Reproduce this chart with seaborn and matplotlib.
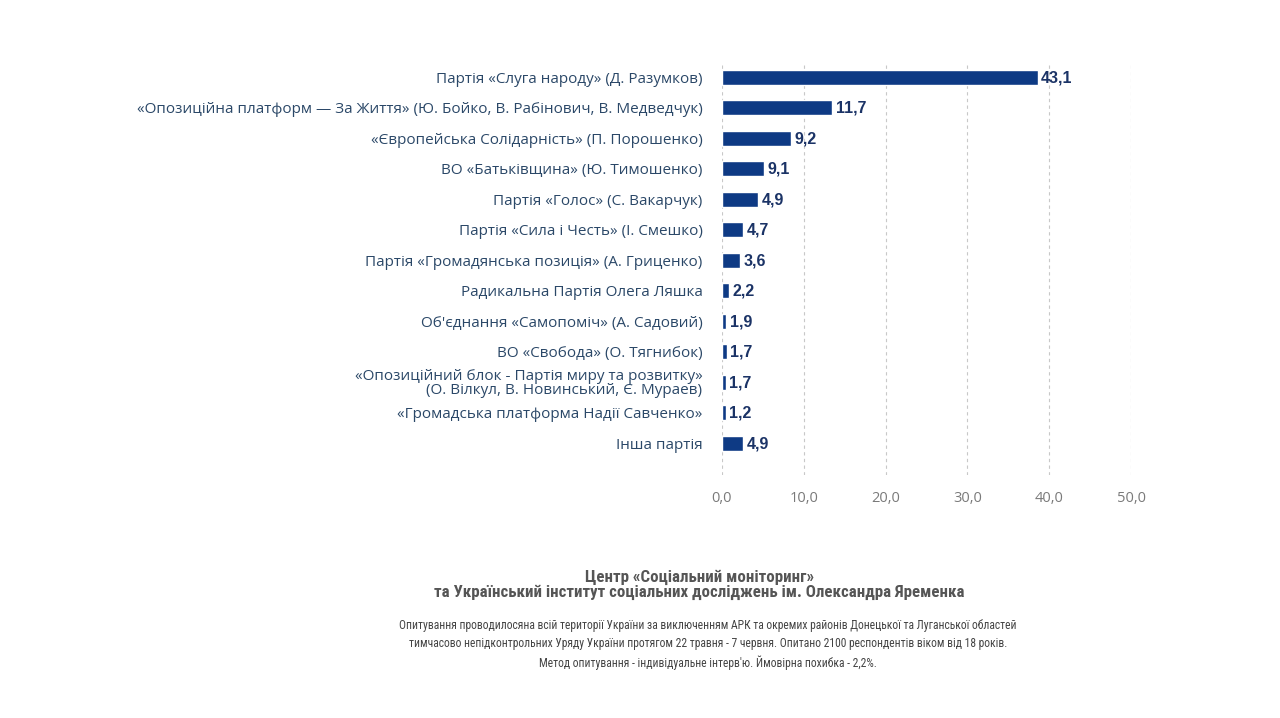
import matplotlib.pyplot as plt
import pandas as pd
import seaborn as sns
from matplotlib import font_manager

# parties as printed on the chart
parties = [
    "Партія «Слуга народу» (Д. Разумков)",
    "«Опозиційна платформ — За Життя» (Ю. Бойко, В. Рабінович, В. Медведчук)",
    "«Європейська Солідарність» (П. Порошенко)",
    "ВО «Батьківщина» (Ю. Тимошенко)",
    "Партія «Голос» (С. Вакарчук)",
    "Партія «Сила і Честь» (І. Смешко)",
    "Партія «Громадянська позиція» (А. Гриценко)",
    "Радикальна Партія Олега Ляшка",
    "Об'єднання «Самопоміч» (А. Садовий)",
    "ВО «Свобода» (О. Тягнибок)",
    "«Опозиційний блок - Партія миру та розвитку»\n(О. Вілкул, В. Новинський, Є. Мураев)",
    "«Громадська платформа Надії Савченко»",
    "Інша партія",
]
# printed values
shares = [43.1, 11.7, 9.2, 9.1, 4.9, 4.7, 3.6, 2.2, 1.9, 1.7, 1.7, 1.2, 4.9]
# bar lengths as drawn in the original (not to scale with the labels)
bar_lengths = [38.6, 13.5, 8.4, 5.1, 4.45, 2.57, 2.24, 0.9, 0.53, 0.57, 0.49, 0.45, 2.6]
x_ticks = [0, 10, 20, 30, 40, 50]

footer_title = "Центр «Соціальний моніторинг»\nта Український інститут соціальних досліджень ім. Олександра Яременка"
footer_note = (
    "Опитування проводилосяна всій території України за виключенням АРК та окремих районів Донецької та Луганської областей\n"
    "тимчасово непідконтрольних Уряду України протягом 22 травня - 7 червня. Опитано 2100 респондентів віком від 18 років.\n"
    "Метод опитування - індивідуальне інтерв'ю. Ймовірна похибка - 2,2%."
)


def narrow_font():
    # a condensed face for the footer, if any is installed
    names = {f.name for f in font_manager.fontManager.ttflist}
    for n in ["Liberation Sans Narrow", "DejaVu Sans Condensed", "Roboto Condensed",
              "Open Sans Condensed", "Noto Sans Condensed"]:
        if n in names:
            return n, "normal"
    for f in font_manager.fontManager.ttflist:
        if f.name == "DejaVu Sans" and f.stretch in ("condensed", 87.5, "semi-condensed"):
            return "DejaVu Sans", "condensed"
    return None, "normal"


if __name__ == "__main__":
    sns.set_style("white")
    plt.rcParams["font.family"] = ["Open Sans", "DejaVu Sans"]

    df = pd.DataFrame({"party": parties, "length": bar_lengths, "share": shares})

    fig = plt.figure(figsize=(12.8, 7.18), dpi=100)
    ax = fig.add_axes([0.564, 0.338, 0.3196, 0.5756])
    sns.barplot(
        data=df, y="party", x="length", orient="h",
        color="#0e3a84", saturation=1, width=0.5, ax=ax,
    )

    for i, (v, s) in enumerate(zip(bar_lengths, shares)):
        ax.annotate(
            f"{s:.1f}".replace(".", ","), (v, i), xytext=(2.5, -0.5),
            textcoords="offset points", va="center", ha="left",
            fontsize=11.5, fontweight="bold", color="#1b3366",
            family=["Liberation Sans", "DejaVu Sans"],
        )

    ax.set_xlim(0, 50)
    ax.set_ylim(len(parties) - 1 + 1.05, -0.5)
    ax.set_xticks(x_ticks)
    ax.set_xticklabels([f"{t:.1f}".replace(".", ",") for t in x_ticks])
    ax.grid(axis="x", linestyle=(0, (3, 3)), color="#c8c8c8", linewidth=0.8)
    ax.grid(axis="y", visible=False)
    sns.despine(ax=ax, left=True, bottom=True)
    ax.tick_params(axis="x", length=0, pad=11, labelsize=10.5, labelcolor="#7a7a7a")
    ax.tick_params(axis="y", length=0, pad=14, labelsize=11, labelcolor="#2b4868")
    for lab in ax.get_yticklabels():
        lab.set_linespacing(0.9)
    ax.set_xlabel("")
    ax.set_ylabel("")

    nf, stretch = narrow_font()
    fam = [nf, "DejaVu Sans"] if nf else ["DejaVu Sans"]
    scale = 1.0 if nf else 0.85
    fig.text(
        0.5465, 0.185, footer_title, ha="center", va="center",
        fontsize=12.2 * scale, fontweight="bold", color="#555555", linespacing=0.95,
        family=fam, fontstretch=stretch,
    )
    fig.text(
        0.553, 0.102, footer_note, ha="center", va="center",
        fontsize=8.35 * scale, color="#444444", linespacing=1.5,
        family=fam, fontstretch=stretch,
    )

    fig.savefig("out.png", dpi=100, facecolor="white")
